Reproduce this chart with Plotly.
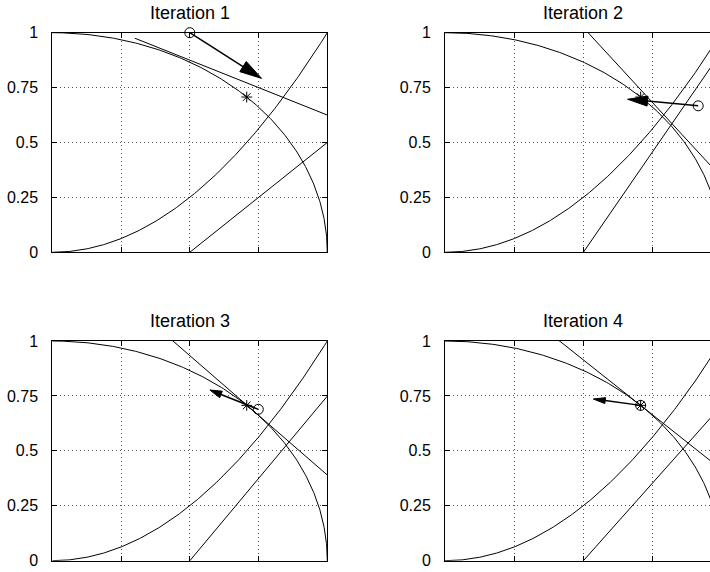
import numpy as np
import plotly.graph_objects as go

# ---------------- data ----------------
titles = ["Iteration 1", "Iteration 2", "Iteration 3", "Iteration 4"]
y_ticks = [0, 0.25, 0.5, 0.75, 1]
y_tick_labels = ["0", "0.25", "0.5", "0.75", "1"]
x_ticks = [0, 0.25, 0.5, 0.75, 1]

# current iterate (circle marker)
iter_x = [0.5, 0.915, 0.749, 0.707]
iter_y = [1.0, 0.667, 0.689, 0.707]
# solution (star marker)
sol_x = 0.707
sol_y = 0.707
# arrow tips (arrow starts at the iterate)
tip_x = [0.761, 0.660, 0.573, 0.536]
tip_y = [0.792, 0.697, 0.777, 0.736]
# linearised constraint 1 (circle) : endpoints at x = 0.3 and x = 1
lin1_x = [0.3, 1.0]
lin1_y = [[0.975, 0.625], [1.297, 0.340], [1.151, 0.390], [1.114, 0.414]]
# linearised constraint 2 (parabola) : endpoints at x = 0.3 and x = 1
lin2_x = [0.3, 1.0]
lin2_y = [[-0.200, 0.500], [-0.366, 0.915], [-0.300, 0.749], [-0.283, 0.707]]

# ---------------- layout geometry (window pixels) ----------------
W, H = 710, 572
left_px = [(52.3, 327.3), (445.0, 721.7), (52.3, 327.3), (445.0, 721.7)]
top_px = [(32.7, 252.3), (32.7, 252.3), (341.0, 560.7), (341.0, 560.7)]
head_len = [22, 20, 12, 12]
head_wid = [12, 10, 7, 6]
FONT = "Liberation Sans, Arial, sans-serif"

fig = go.Figure()

theta = np.linspace(0, np.pi / 2, 200)
circ_x = np.cos(theta)
circ_y = np.sin(theta)
par_x = np.linspace(0, 1, 200)
par_y = par_x ** 2

line_style = dict(color="black", width=1)

for i in range(4):
    n = "" if i == 0 else str(i + 1)
    xa, ya = "x" + n, "y" + n
    x0p, x1p = left_px[i]
    y0p, y1p = top_px[i]
    kx = (x1p - x0p)  # px per data unit
    ky = (y1p - y0p)
    xmax = min(1.0, (W - x0p) / kx)

    fig.add_trace(go.Scatter(x=circ_x, y=circ_y, mode="lines", line=line_style,
                             xaxis=xa, yaxis=ya, hoverinfo="skip"))
    fig.add_trace(go.Scatter(x=par_x, y=par_y, mode="lines", line=line_style,
                             xaxis=xa, yaxis=ya, hoverinfo="skip"))
    fig.add_trace(go.Scatter(x=lin1_x, y=lin1_y[i], mode="lines", line=line_style,
                             xaxis=xa, yaxis=ya, hoverinfo="skip"))
    fig.add_trace(go.Scatter(x=lin2_x, y=lin2_y[i], mode="lines", line=line_style,
                             xaxis=xa, yaxis=ya, hoverinfo="skip"))

    # arrow: shaft + filled head, computed in pixel space
    tx, ty = iter_x[i], iter_y[i]
    hx, hy = tip_x[i], tip_y[i]
    dx, dy = (hx - tx) * kx, (hy - ty) * ky
    L = np.hypot(dx, dy)
    ux, uy = dx / L, dy / L
    nx, ny = -uy, ux
    bx, by = hx - head_len[i] * ux / kx, hy - head_len[i] * uy / ky
    c1 = (bx + head_wid[i] / 2 * nx / kx, by + head_wid[i] / 2 * ny / ky)
    c2 = (bx - head_wid[i] / 2 * nx / kx, by - head_wid[i] / 2 * ny / ky)
    fig.add_trace(go.Scatter(x=[tx, bx], y=[ty, by], mode="lines",
                             line=dict(color="black", width=1.5),
                             xaxis=xa, yaxis=ya, hoverinfo="skip"))
    fig.add_trace(go.Scatter(x=[hx, c1[0], c2[0], hx], y=[hy, c1[1], c2[1], hy],
                             mode="lines", fill="toself", fillcolor="black",
                             line=dict(color="black", width=1),
                             xaxis=xa, yaxis=ya, hoverinfo="skip"))

    fig.add_trace(go.Scatter(x=[sol_x], y=[sol_y], mode="markers",
                             marker=dict(symbol="asterisk-open", size=9, color="black",
                                         line=dict(color="black", width=1)),
                             xaxis=xa, yaxis=ya, hoverinfo="skip"))
    fig.add_trace(go.Scatter(x=[tx], y=[ty], mode="markers",
                             marker=dict(symbol="circle-open", size=10, color="black",
                                         line=dict(color="black", width=1)),
                             xaxis=xa, yaxis=ya, hoverinfo="skip", cliponaxis=False))

    right_cut = (i % 2 == 1)
    xdom = [x0p / W, min(x1p, W) / W]
    ydom = [1 - y1p / H, 1 - y0p / H]
    common = dict(showgrid=True, gridcolor="#555555", griddash="1px,3px", gridwidth=1,
                  zeroline=False, showline=True, linecolor="black", linewidth=1,
                  ticks="inside", ticklen=5, tickcolor="black", tickwidth=1,
                  automargin=False)
    fig.update_layout(**{
        ("xaxis" + n): dict(domain=xdom, range=[0, xmax], anchor=ya,
                            tickvals=x_ticks, showticklabels=False,
                            mirror="ticks", **common),
        ("yaxis" + n): dict(domain=ydom, range=[0, 1], anchor=xa,
                            tickvals=y_ticks, ticktext=y_tick_labels,
                            mirror=(False if right_cut else "ticks"),
                            ticklabelstandoff=10,
                            tickfont=dict(family=FONT, size=16, color="black"),
                            **common),
    })
    fig.add_annotation(text=titles[i], xref="paper", yref="paper",
                       x=(x0p + x1p) / 2 / W, y=1 - y0p / H, yshift=20,
                       xanchor="center", yanchor="middle", showarrow=False,
                       font=dict(family=FONT, size=18, color="black"))

fig.update_layout(width=W, height=H, margin=dict(l=0, r=0, t=0, b=0, autoexpand=False),
                  paper_bgcolor="white", plot_bgcolor="white", showlegend=False,
                  template="none")

# remove the default 8px page margin so the figure sits at the window origin
fig.write_html("out.html", config={"displayModeBar": False},
               post_script="document.body.style.margin='0';document.body.style.overflow='hidden';")
